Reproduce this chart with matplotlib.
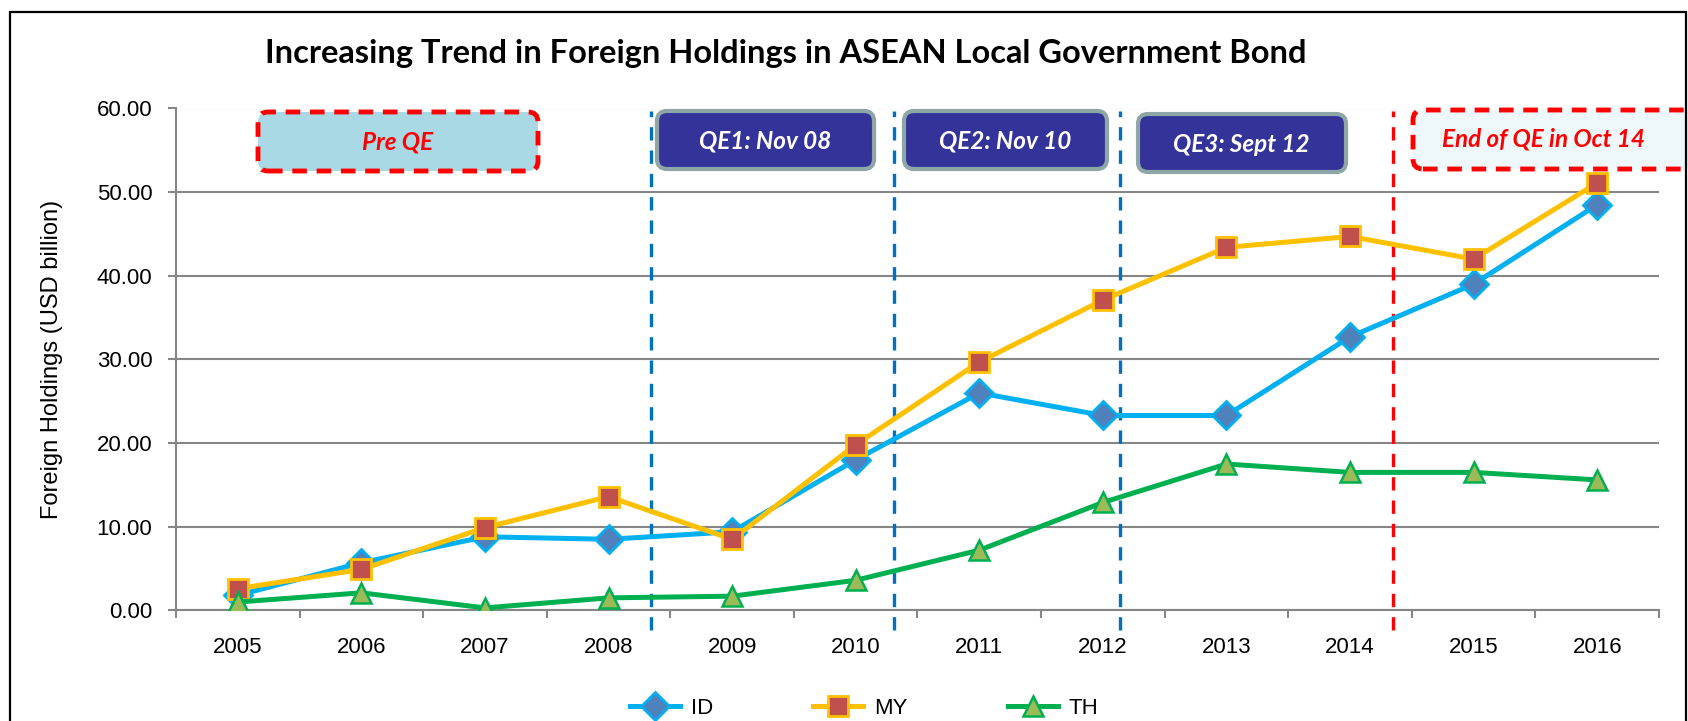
import matplotlib
matplotlib.use("Agg")
import matplotlib.pyplot as plt
from matplotlib.patches import FancyBboxPatch, Rectangle
from matplotlib.transforms import IdentityTransform

years = ["2005", "2006", "2007", "2008", "2009", "2010", "2011", "2012",
         "2013", "2014", "2015", "2016"]
id_vals = [1.8, 5.7, 8.8, 8.5, 9.4, 18.0, 26.0, 23.3, 23.3, 32.7, 39.0, 48.5]
my_vals = [2.6, 4.9, 9.9, 13.6, 8.5, 19.8, 29.7, 37.1, 43.4, 44.7, 42.0, 51.1]
th_vals = [1.0, 2.1, 0.3, 1.5, 1.7, 3.6, 7.2, 12.9, 17.5, 16.5, 16.5, 15.6]
y_ticks = [0, 10, 20, 30, 40, 50, 60]

W, H = 1688, 721
fig = plt.figure(figsize=(W / 100, H / 100), dpi=100)
fig.patch.set_facecolor("white")

def fx(px):
    return px / W

def fy(py):
    return 1 - py / H

left, right, top, bottom = 176, 1659, 108.5, 610.4
ax = fig.add_axes([fx(left), fy(bottom), fx(right - left), (bottom - top) / H])

x = list(range(len(years)))
ax.plot(x, id_vals, color="#00b0f0", lw=3.6, marker="D", ms=14,
        mfc="#4f81bd", mec="#00b0f0", mew=2, label="ID", zorder=3)
ax.plot(x, my_vals, color="#ffc000", lw=3.6, marker="s", ms=14,
        mfc="#c0504d", mec="#ffc000", mew=2, label="MY", zorder=4)
ax.plot(x, th_vals, color="#00b050", lw=3.6, marker="^", ms=15,
        mfc="#9bbb59", mec="#00b050", mew=1.8, label="TH", zorder=5)

ax.set_xlim(-0.5, len(years) - 0.5)
ax.set_ylim(0, 60)
ax.set_yticks(y_ticks)
ax.set_yticklabels([f"{v:.2f}" for v in y_ticks], fontsize=16, family="Liberation Sans")
ax.set_xticks(x)
ax.set_xticklabels(years, fontsize=16, family="Liberation Sans")
ax.set_xticks([i - 0.5 for i in range(len(years) + 1)], minor=True)
ax.tick_params(axis="x", which="major", length=0, pad=19)
ax.tick_params(axis="x", which="minor", length=6, width=1.5, color="#868686")
ax.tick_params(axis="y", length=6, width=1.5, color="#868686", pad=11)
ax.grid(axis="y", color="#868686", lw=1.5)
ax.set_axisbelow(True)
for s in ["top", "right"]:
    ax.spines[s].set_visible(False)
for s in ["left", "bottom"]:
    ax.spines[s].set_color("#868686")
    ax.spines[s].set_linewidth(1.5)
ax.set_ylabel("Foreign Holdings (USD billion)", fontsize=17,
              family="Liberation Sans", labelpad=24)

# vertical event lines
ymin_ax = (bottom - 630) / (bottom - top)
ymax_ax = (bottom - 111) / (bottom - top)
for xv in [3.34, 5.31, 7.14]:
    ax.axvline(xv, ymin=ymin_ax, ymax=ymax_ax, color="#0070c0", lw=2.4,
               ls=(0, (4, 3)), clip_on=False, zorder=2)
ax.axvline(9.35, ymin=ymin_ax, ymax=ymax_ax, color="#ff0000", lw=2.4,
           ls=(0, (4, 3)), clip_on=False, zorder=2)

# title
fig.text(fx(786), fy(54), "Increasing Trend in Foreign Holdings in ASEAN Local Government Bond",
         ha="center", va="center", fontsize=23.5, fontweight="bold", family="Lato")

# annotation boxes (pixel coordinates, top-left origin)
def box(x0, y0, x1, y1, fc, ec, lw, ls, text, tc, tx, ty, fs):
    p = FancyBboxPatch((x0, H - y1), x1 - x0, y1 - y0,
                       boxstyle="round,pad=0,rounding_size=10",
                       transform=IdentityTransform(), facecolor=fc,
                       edgecolor=ec, lw=lw, ls=ls, zorder=10)
    fig.patches.append(p)
    fig.text(fx(tx), fy(ty), text, ha="center", va="center", color=tc,
             fontsize=fs, fontweight="bold", fontstyle="italic", family="Lato",
             zorder=11)

box(258, 112, 538, 171, "#a9d9e5", "#ff0000", 3.5, (0, (3, 2)), "Pre QE", "#ff0000", 398, 142, 17.5)
box(657, 111, 874, 169, "#333399", "#8fa6a6", 3, "-", "QE1: Nov 08", "white", 765, 141, 17.5)
box(904, 111, 1107, 169, "#333399", "#8fa6a6", 3, "-", "QE2: Nov 10", "white", 1005, 141, 17.5)
box(1138, 114, 1346, 172, "#333399", "#8fa6a6", 3, "-", "QE3: Sept 12", "white", 1241, 144, 17.5)
box(1413, 110, 1710, 169, "#eef7f9", "#ff0000", 3.5, (0, (3, 2)), "End of QE in Oct 14", "#ff0000", 1543, 139, 17.5)

# outer frame
frame = Rectangle((10, -10), 1686 - 10, H - 12 + 10, transform=IdentityTransform(),
                  fill=False, edgecolor="black", lw=1.6, zorder=20)
fig.patches.append(frame)

leg = fig.legend(handles=ax.get_lines(), labels=["ID", "MY", "TH"],
                 loc="center", bbox_to_anchor=(fx(864), fy(708)), ncol=3,
                 frameon=False, handlelength=2.25, columnspacing=4.5,
                 handletextpad=0.5, prop={"family": "Liberation Sans", "size": 16})

fig.savefig("out.png", dpi=100)
